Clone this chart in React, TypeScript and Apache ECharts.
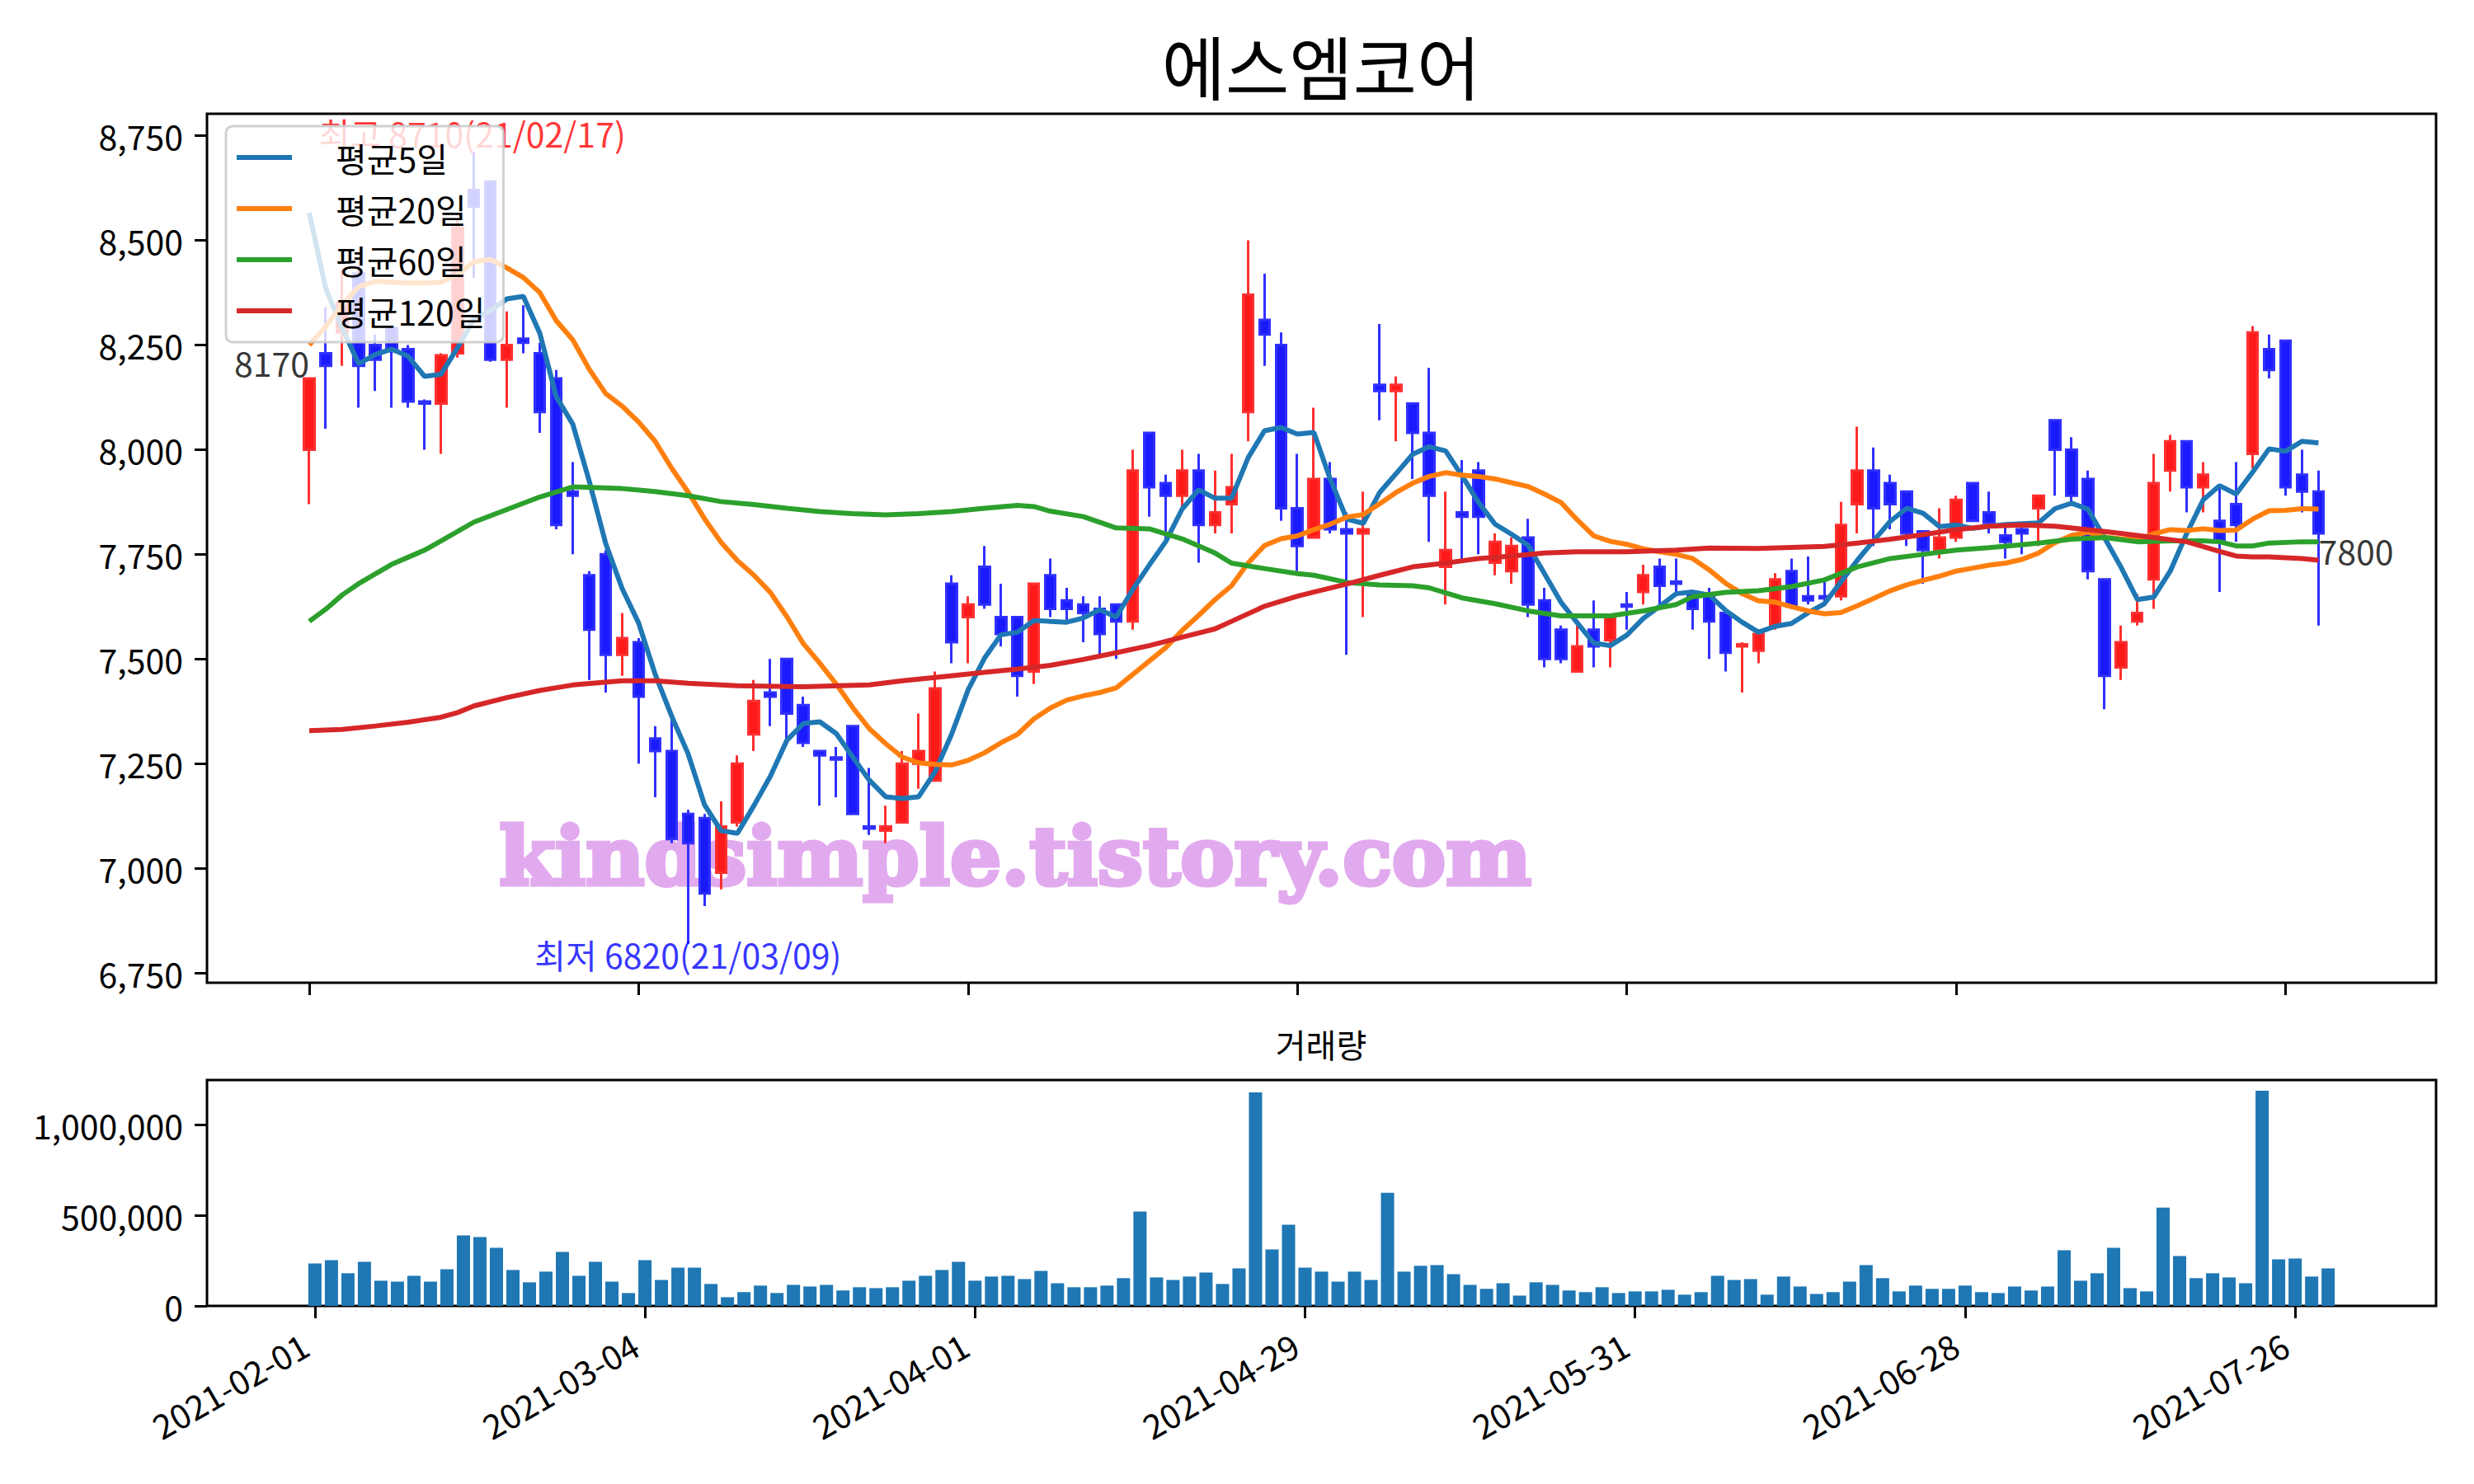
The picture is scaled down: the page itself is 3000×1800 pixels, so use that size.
import React, { useEffect, useRef } from "react";
import * as echarts from "echarts";

const FONT = '"Noto Sans CJK KR", "Noto Sans", sans-serif';

// ---- data (index = trading day, 2021-02-01 .. 2021-07-28) ----
const opens = [8000,8230,8280,8420,8250,8290,8240,8115,8110,8230, 8620,8640,8215,8265,8230,8170,7900,7700,7750,7510, 7540,7310,7280,7130,7120,6990,7110,7320,7420,7500, 7390,7280,7265,7340,7100,7090,7110,7250,7210,7680, 7600,7720,7600,7600,7470,7700,7640,7630,7620,7630, 7590,8040,7920,7890,7950,7820,7870,8090,8310,8250, 7860,7790,7930,7810,7800,8155,8140,8110,8040,7720, 7850,7950,7730,7710,7790,7640,7570,7470,7570,7545, 7630,7660,7720,7685,7660,7650,7610,7530,7520,7580, 7710,7650,7650,7650,7870,7950,7920,7900,7805,7760, 7790,7920,7850,7795,7810,7860,8070,8000,7930,7690, 7480,7590,7690,7950,8020,7910,7830,7870,7990,8240, 8260,7940,7900];
const closes = [8170,8200,8350,8200,8215,8235,8115,8110,8225,8530, 8580,8215,8250,8255,8090,7820,7890,7570,7510,7550, 7410,7280,7070,7060,6940,7100,7250,7400,7410,7370, 7300,7270,7260,7130,7095,7100,7250,7280,7430,7540, 7630,7630,7560,7460,7680,7620,7620,7610,7560,7590, 7950,7910,7890,7950,7820,7850,7910,8370,8275,7860, 7770,7930,7810,7800,7810,8140,8155,8040,7890,7760, 7840,7840,7780,7770,7630,7500,7500,7530,7530,7600, 7625,7700,7675,7680,7620,7590,7515,7535,7560,7690, 7625,7640,7645,7820,7950,7860,7870,7800,7760,7790, 7880,7830,7825,7780,7800,7890,8000,7890,7710,7460, 7540,7610,7920,8020,7910,7940,7780,7820,8280,8190, 7910,7900,7800];
const lows = [7870,8050,8200,8100,8140,8100,8100,8000,7990,8220, 8410,8210,8100,8230,8040,7810,7750,7450,7420,7460, 7250,7170,7060,6820,6910,6950,7100,7280,7340,7310, 7290,7150,7170,7130,7080,7060,7110,7190,7210,7490, 7490,7620,7530,7410,7440,7600,7590,7540,7510,7500, 7570,7840,7780,7860,7730,7800,7800,8020,8200,7830, 7710,7790,7800,7510,7600,8070,8020,7930,7780,7630, 7735,7750,7700,7680,7600,7480,7490,7470,7480,7480, 7570,7630,7630,7655,7570,7500,7470,7420,7490,7570, 7620,7630,7630,7640,7800,7770,7810,7770,7680,7740, 7780,7830,7800,7740,7750,7770,7890,7875,7690,7380, 7450,7580,7620,7900,7850,7850,7660,7780,7955,8170, 7890,7850,7580];
const highs = [8170,8340,8430,8440,8275,8290,8250,8120,8230,8550, 8710,8640,8330,8345,8255,8190,7970,7710,7760,7610, 7550,7340,7360,7140,7130,7160,7270,7450,7500,7500, 7410,7280,7290,7340,7240,7150,7280,7370,7470,7700, 7650,7770,7680,7600,7680,7740,7670,7650,7650,7630, 8000,8040,7940,8000,7990,7950,7990,8500,8420,8280, 7990,8100,7970,7850,7900,8300,8175,8110,8195,7900, 7975,7970,7800,7790,7835,7670,7580,7580,7640,7600, 7660,7725,7740,7740,7660,7670,7610,7540,7560,7705, 7740,7745,7685,7875,8055,8005,7940,7900,7805,7860, 7890,7920,7900,7820,7815,7890,8070,8030,7950,7690, 7580,7655,7990,8035,8020,7970,7915,7970,8295,8275, 8260,8000,7950];
const volumes = [234000,252000,180000,243000,139000,134000,166000,134000,202000,388000, 379000,320000,198000,130000,189000,298000,166000,243000,134000,71000, 252000,143000,211000,211000,121000,48000,76000,112000,71000,116000, 107000,116000,85000,103000,98000,103000,139000,166000,198000,243000, 139000,162000,166000,148000,193000,125000,103000,103000,112000,153000, 520000,157000,143000,162000,184000,121000,207000,1177000,311000,447000, 211000,189000,134000,189000,143000,624000,189000,221000,225000,175000, 116000,94000,125000,57000,130000,116000,85000,76000,103000,71000, 80000,80000,89000,62000,76000,166000,143000,148000,62000,162000, 107000,66000,76000,134000,225000,153000,80000,112000,94000,94000, 112000,76000,71000,107000,85000,107000,307000,139000,180000,320000, 98000,80000,542000,275000,153000,180000,157000,125000,1186000,257000, 261000,162000,207000];
const ma5 = [8565,8385,8290,8205,8227,8240,8223,8175,8180,8243, 8312,8332,8360,8366,8278,8126,8061,7925,7776,7668, 7586,7464,7364,7274,7152,7090,7084,7150,7220,7306, 7346,7350,7322,7266,7211,7171,7167,7171,7231,7320, 7426,7502,7558,7564,7592,7590,7588,7598,7618,7600, 7666,7724,7780,7858,7904,7884,7884,7980,8045,8053, 8037,8041,7929,7834,7824,7898,7943,7989,8007,7997, 7937,7874,7822,7798,7772,7704,7636,7586,7538,7532, 7557,7597,7626,7656,7660,7653,7616,7588,7564,7578, 7585,7610,7632,7684,7736,7783,7829,7860,7848,7816, 7820,7812,7817,7821,7823,7825,7859,7872,7858,7790, 7720,7642,7648,7710,7800,7880,7914,7894,7946,8002, 7996,8020,8016];
const ma20 = [8250,8294,8346,8389,8402,8400,8398,8398,8400,8418, 8449,8454,8434,8411,8375,8308,8262,8192,8134,8104, 8066,8020,7956,7899,7835,7779,7735,7700,7659,7601, 7537,7490,7440,7384,7334,7298,7266,7252,7248,7247, 7258,7276,7300,7320,7357,7383,7402,7412,7420,7431, 7463,7495,7527,7568,7604,7642,7675,7729,7771,7787, 7794,7809,7822,7839,7845,7871,7898,7920,7936,7945, 7939,7936,7930,7921,7912,7894,7874,7832,7794,7781, 7774,7763,7756,7750,7740,7713,7681,7656,7639,7636, 7625,7615,7608,7611,7627,7645,7663,7677,7688,7698, 7710,7717,7724,7729,7738,7753,7778,7795,7803,7791, 7787,7786,7799,7809,7807,7811,7807,7808,7834,7854, 7855,7859,7858];
const ma60Idx = [0,1,2,3,5,7,8,10,12,14,16,19,21,23,25,27,29,31,33,35,37,39,41,43,44,45,47,49,51,53,55,56,58,60,61,63,65,67,68,70,72,74,76,79,81,83,84,86,88,90,92,94,96,98,100,102,104,105,107,109,111,113,115,116,117,118,119,121,122];
const ma60Val = [7590,7619,7653,7680,7726,7760,7782,7827,7857,7887,7911,7907,7900,7890,7876,7869,7860,7852,7847,7844,7847,7852,7860,7867,7864,7853,7840,7813,7811,7787,7753,7729,7716,7704,7700,7683,7677,7675,7670,7646,7632,7615,7603,7603,7615,7630,7649,7659,7663,7673,7689,7720,7740,7750,7760,7766,7773,7777,7786,7790,7780,7782,7782,7780,7770,7770,7777,7780,7780];
const ma120Idx = [0,2,4,6,8,9,10,12,14,16,19,21,23,26,30,34,36,38,41,43,45,47,49,51,53,55,56,58,60,61,63,65,67,69,71,73,75,77,80,83,85,88,92,94,96,98,100,102,104,106,108,110,112,114,116,117,118,119,121,122];
const ma120Val = [7329,7332,7340,7349,7361,7372,7388,7408,7425,7438,7448,7448,7442,7436,7434,7438,7448,7456,7468,7476,7485,7499,7515,7532,7552,7572,7590,7626,7650,7660,7679,7700,7720,7729,7740,7746,7753,7756,7756,7760,7765,7764,7769,7777,7786,7797,7809,7817,7820,7817,7809,7800,7790,7780,7757,7746,7744,7744,7740,7736];

const tickPositions = [0, 20, 40, 60, 80, 100, 120];
const tickLabels = ["2021-02-01", "2021-03-04", "2021-04-01", "2021-04-29", "2021-05-31", "2021-06-28", "2021-07-26"];
const priceTicks = [6750, 7000, 7250, 7500, 7750, 8000, 8250, 8500, 8750];
const volumeTicks = [0, 500000, 1000000];
const seriesNames = ["평균5일", "평균20일", "평균60일", "평균120일"];
const seriesColors = ["#1f77b4", "#ff7f0e", "#2ca02c", "#d62728"];
const titleText = "에스엠코어";
const volumeTitle = "거래량";
const highIdx = 10, highVal = 8710, highDate = "21/02/17";
const lowIdx = 23, lowVal = 6820, lowDate = "21/03/09";
const watermark = "kindsimple.tistory.com";

const fmt = (v: number) => v.toLocaleString("en-US");

export default function App() {
  const ref = useRef<HTMLDivElement>(null);
  useEffect(() => {
    if (!ref.current) return;
    const chart = echarts.init(ref.current, undefined, { renderer: "svg" });
    const last = closes.length - 1;
    const candleData = closes.map((c, i) => [i, opens[i], c, lows[i], highs[i]]);
    const tickStyle = { show: true, inside: false, length: 15, lineStyle: { color: "#000", width: 3 } };
    const textBase = { fontFamily: FONT, fontSize: 41, color: "#000" };
    const noLine = { show: false, onZero: false };
    const option: any = {
      animation: false,
      backgroundColor: "#fff",
      textStyle: { fontFamily: FONT },
      title: [
        { text: titleText, left: 1602, top: 34, textAlign: "center", padding: 0,
          textStyle: { fontFamily: FONT, fontSize: 84, fontWeight: "normal", color: "#000", lineHeight: 88 } },
        { text: volumeTitle, left: 1602, top: 1245, textAlign: "center", padding: 0,
          textStyle: { fontFamily: FONT, fontSize: 40, fontWeight: "normal", color: "#000", lineHeight: 42 } },
      ],
      legend: {
        data: seriesNames, orient: "vertical", left: 274, top: 153,
        padding: [17, 22, 17, 13], itemGap: 20, itemWidth: 67, itemHeight: 6, icon: "rect",
        backgroundColor: "rgba(255,255,255,0.8)", borderColor: "rgba(204,204,204,0.9)", borderWidth: 3, borderRadius: 8,
        textStyle: { ...textBase, padding: [0, 0, 0, 48], lineHeight: 42 },
      },
      graphic: [
        { type: "text", x: 1231, y: 1038, z: 1, silent: true,
          style: { text: watermark, fill: "rgb(226,170,238)", stroke: "rgb(226,170,238)", lineWidth: 5,
            font: 'bold 98px "DejaVu Serif"', align: "center", verticalAlign: "middle" } },
      ],
      grid: [
        { left: 251, top: 138, width: 2703, height: 1054, show: true, borderColor: "#000", borderWidth: 3, backgroundColor: "transparent" },
        { left: 251, top: 1310, width: 2703, height: 274, show: true, borderColor: "#000", borderWidth: 3, backgroundColor: "transparent" },
      ],
      xAxis: [
        { type: "value", gridIndex: 0, min: -6.21, max: 129.14, position: "bottom",
          axisLine: noLine, splitLine: { show: false },
          axisTick: { ...tickStyle, customValues: tickPositions },
          axisLabel: { show: false } },
        { type: "value", gridIndex: 1, min: -6.54, max: 128.54, position: "bottom",
          axisLine: noLine, splitLine: { show: false },
          axisTick: { ...tickStyle, customValues: tickPositions },
          axisLabel: { ...textBase, customValues: tickPositions, rotate: 30, margin: 36, padding: [0, 14, 0, 0],
            formatter: (v: number) => tickLabels[tickPositions.indexOf(Math.round(v))] ?? "" } },
      ],
      yAxis: [
        { type: "value", gridIndex: 0, min: 6727, max: 8802, position: "left",
          axisLine: noLine, splitLine: { show: false },
          axisTick: { ...tickStyle, customValues: priceTicks },
          axisLabel: { ...textBase, customValues: priceTicks, margin: 29, formatter: (v: number) => fmt(v) } },
        { type: "value", gridIndex: 1, min: 0, max: 1245000, position: "left",
          axisLine: noLine, splitLine: { show: false },
          axisTick: { ...tickStyle, customValues: volumeTicks },
          axisLabel: { ...textBase, customValues: volumeTicks, margin: 29, formatter: (v: number) => fmt(v) } },
      ],
      series: [
        { type: "candlestick", name: "candle", xAxisIndex: 0, yAxisIndex: 0, barWidth: 13, z: 2,
          encode: { x: 0, y: [1, 2, 3, 4] },
          itemStyle: { color: "#ff1a1a", color0: "#1a1aff", borderColor: "#ff3030", borderColor0: "#3030ff", borderWidth: 3 },
          data: candleData },
        { type: "line", name: seriesNames[0], xAxisIndex: 0, yAxisIndex: 0, symbol: "none", z: 3,
          lineStyle: { width: 6, color: seriesColors[0] }, itemStyle: { color: seriesColors[0] },
          data: ma5.map((v, i) => [i, v]) },
        { type: "line", name: seriesNames[1], xAxisIndex: 0, yAxisIndex: 0, symbol: "none", z: 3,
          lineStyle: { width: 6, color: seriesColors[1] }, itemStyle: { color: seriesColors[1] },
          data: ma20.map((v, i) => [i, v]) },
        { type: "line", name: seriesNames[2], xAxisIndex: 0, yAxisIndex: 0, symbol: "none", z: 3,
          lineStyle: { width: 6, color: seriesColors[2] }, itemStyle: { color: seriesColors[2] },
          data: ma60Idx.map((x, i) => [x, ma60Val[i]]) },
        { type: "line", name: seriesNames[3], xAxisIndex: 0, yAxisIndex: 0, symbol: "none", z: 3,
          lineStyle: { width: 6, color: seriesColors[3] }, itemStyle: { color: seriesColors[3] },
          data: ma120Idx.map((x, i) => [x, ma120Val[i]]) },
        { type: "scatter", name: "notes", xAxisIndex: 0, yAxisIndex: 0, symbolSize: 1, silent: true, z: 3,
          itemStyle: { color: "transparent" },
          data: [
            { value: [highIdx, highVal], label: { show: true, position: "inside", formatter: `최고 ${highVal}(${highDate})`,
              ...textBase, color: "#ff0000", align: "center", verticalAlign: "bottom", offset: [-2, -3] } },
            { value: [lowIdx, lowVal], label: { show: true, position: "inside", formatter: `최저 ${lowVal}(${lowDate})`,
              ...textBase, color: "#0000ff", align: "center", verticalAlign: "top", offset: [0, -8] } },
            { value: [0, closes[0]], label: { show: true, position: "inside", formatter: String(closes[0]),
              ...textBase, align: "right", verticalAlign: "bottom" } },
            { value: [last, closes[last]], label: { show: true, position: "inside", formatter: String(closes[last]),
              ...textBase, align: "left", verticalAlign: "top" } },
          ] },
        { type: "bar", name: "volume", xAxisIndex: 1, yAxisIndex: 1, barWidth: 16,
          itemStyle: { color: "#1f77b4" },
          data: volumes.map((v, i) => [i, v]) },
      ],
    };
    chart.setOption(option);
    return () => chart.dispose();
  }, []);
  return <div ref={ref} style={{ position: "absolute", left: 0, top: 0, width: 3000, height: 1800, background: "#fff" }} />;
}
